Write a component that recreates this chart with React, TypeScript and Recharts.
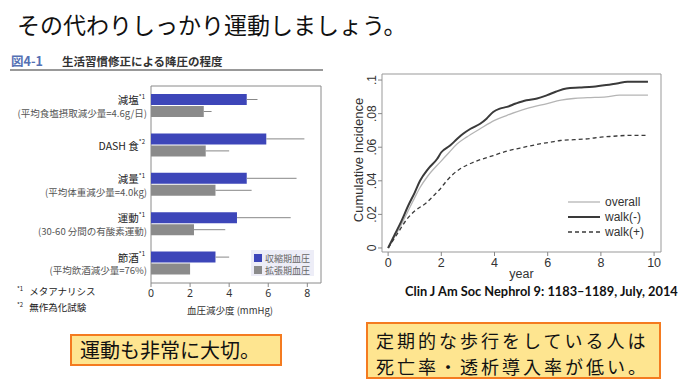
import React from "react";
import {
  BarChart,
  Bar,
  XAxis,
  YAxis,
  ErrorBar,
  ReferenceArea,
  Legend,
  LineChart,
  Line,
} from "recharts";

// left chart: 生活習慣修正による降圧の程度
const categories = ["減塩", "DASH 食", "減量", "運動", "節酒"];
const categoryNotes = ["*1", "*2", "*1", "*1", "*1"];
const categorySubs = [
  "(平均食塩摂取減少量=4.6g/日)",
  "",
  "(平均体重減少量=4.0kg)",
  "(30-60 分間の有酸素運動)",
  "(平均飲酒減少量=76%)",
];
const systolic = [4.9, 5.9, 4.9, 4.4, 3.3];
const systolicErr = [0.55, 1.95, 2.55, 2.75, 0.7];
const diastolic = [2.7, 2.8, 3.3, 2.2, 2.0];
const diastolicErr = [0.4, 1.2, 1.85, 1.6, 0];
const bpTicks = [0, 2, 4, 6, 8];

// right chart: cumulative incidence by walking
const walkNoYears = [0, 0.25, 0.5, 0.75, 1.0, 1.2, 1.5, 1.84, 2.0, 2.33, 2.6, 2.82, 3.1, 3.46, 3.7, 3.95, 4.2, 4.47, 4.8, 5.2, 5.6, 5.98, 6.3, 6.7, 7.2, 7.7, 8.2, 8.6, 9.0, 9.77];
const walkNoValues = [0, 0.008, 0.016, 0.025, 0.033, 0.04, 0.047, 0.053, 0.057, 0.061, 0.065, 0.068, 0.071, 0.074, 0.077, 0.081, 0.083, 0.084, 0.086, 0.088, 0.089, 0.091, 0.093, 0.095, 0.0955, 0.096, 0.097, 0.098, 0.099, 0.099];
const overallYears = [0, 0.25, 0.5, 0.75, 1.0, 1.2, 1.5, 1.95, 2.3, 2.6, 2.95, 3.46, 4.0, 4.47, 5.2, 5.98, 6.5, 6.97, 7.5, 8.2, 8.7, 9.77];
const overallValues = [0, 0.007, 0.014, 0.022, 0.03, 0.036, 0.043, 0.051, 0.057, 0.062, 0.066, 0.071, 0.076, 0.079, 0.083, 0.086, 0.088, 0.089, 0.0895, 0.09, 0.091, 0.091];
const walkYesYears = [0, 0.37, 0.7, 1.0, 1.45, 1.7, 1.95, 2.2, 2.45, 2.7, 3.2, 3.95, 4.47, 4.96, 5.4, 5.7, 6.1, 6.47, 7.0, 7.5, 8.0, 8.45, 9.0, 9.77];
const walkYesValues = [0, 0.009, 0.017, 0.022, 0.027, 0.031, 0.035, 0.04, 0.044, 0.047, 0.051, 0.055, 0.0577, 0.0595, 0.061, 0.062, 0.063, 0.064, 0.0645, 0.065, 0.066, 0.0665, 0.067, 0.067];
const yearTicks = [0, 2, 4, 6, 8, 10];
const incidenceTicks = [0, 0.02, 0.04, 0.06, 0.08, 0.1];
const incidenceLabels = ["0", ".02", ".04", ".06", ".08", ".1"];

const JP = '"Noto Sans CJK JP", "Noto Sans", sans-serif';
const SANS = '"Liberation Sans", Arial, sans-serif';
const BLUE = "#3d46b9";
const GRAY = "#8b8b8b";

const bpData = categories.map((name, i) => ({
  name,
  systolic: systolic[i],
  systolicErr: [0, systolicErr[i]],
  diastolic: diastolic[i],
  diastolicErr: [0, diastolicErr[i]],
}));

const toSeries = (years: number[], values: number[]) =>
  years.map((year, i) => ({ year, value: values[i] }));
const walkNoData = toSeries(walkNoYears, walkNoValues);
const overallData = toSeries(overallYears, overallValues);
const walkYesData = toSeries(walkYesYears, walkYesValues);

const CategoryTick = (props: any) => {
  const { x, y, payload } = props;
  const i = categories.indexOf(payload.value);
  const sub = categorySubs[i];
  const mainY = sub ? y - 6 : y;
  return (
    <g>
      <text x={x} y={mainY} textAnchor="end" dominantBaseline="central" fontFamily={JP} fontSize={10.5} fill="#222">
        {payload.value}
        <tspan fontSize={6} dy={-4}>{categoryNotes[i]}</tspan>
      </text>
      {sub && (
        <text x={x + 2} y={y + 7} textAnchor="end" dominantBaseline="central" fontFamily={JP} fontSize={9.5} fill="#555">
          {sub}
        </text>
      )}
    </g>
  );
};

const BpAxisTitle = (props: any) => {
  const { viewBox } = props;
  const cx = viewBox.x + viewBox.width / 2 - 6;
  const cy = viewBox.y + 27;
  return (
    <text x={cx} y={cy} textAnchor="middle" dominantBaseline="central" fontFamily={JP} fontSize={9.5} fill="#333">
      血圧減少度 (mmHg)
    </text>
  );
};

const bpLegendItems = [
  { label: "収縮期血圧", color: BLUE },
  { label: "拡張期血圧", color: GRAY },
];

const BpLegend = () => (
  <div style={{ width: 63, height: 26, background: "#ededf7", boxSizing: "border-box", padding: "2px 0 0 3px" }}>
    {bpLegendItems.map((it) => (
      <div key={it.label} style={{ display: "flex", alignItems: "center", height: 12, fontFamily: JP, fontSize: 9, color: "#666" }}>
        <span style={{ display: "inline-block", width: 8, height: 8, background: it.color, marginRight: 3 }} />
        {it.label}
      </div>
    ))}
  </div>
);

const IncidenceTick = (props: any) => {
  const { x, y, payload } = props;
  const i = incidenceTicks.indexOf(payload.value);
  return (
    <text x={x} y={y} transform={`rotate(-90, ${x}, ${y})`} textAnchor="middle" fontFamily={SANS} fontSize={12} fill="#333">
      {incidenceLabels[i]}
    </text>
  );
};

const IncidenceTitle = (props: any) => {
  const { viewBox } = props;
  const cx = viewBox.x + 18;
  const cy = viewBox.y + viewBox.height / 2 - 3;
  return (
    <text x={cx} y={cy} transform={`rotate(-90, ${cx}, ${cy})`} textAnchor="middle" dominantBaseline="central" fontFamily={SANS} fontSize={13} fill="#333">
      Cumulative Incidence
    </text>
  );
};

const YearTitle = (props: any) => {
  const { viewBox } = props;
  return (
    <text x={viewBox.x + viewBox.width / 2} y={viewBox.y + 26} textAnchor="middle" fontFamily={SANS} fontSize={12.5} fill="#333">
      year
    </text>
  );
};

const walkLegendItems = [
  { label: "overall", color: "#b5b5b5", width: 1.3, dash: undefined },
  { label: "walk(-)", color: "#3a3a3a", width: 2, dash: undefined },
  { label: "walk(+)", color: "#3a3a3a", width: 1.3, dash: "4 3" },
];

const WalkLegend = () => (
  <div>
    {walkLegendItems.map((it) => (
      <div key={it.label} style={{ display: "flex", alignItems: "center", height: 15, fontFamily: SANS, fontSize: 12, color: "#333" }}>
        <svg width={32} height={6} style={{ marginRight: 5 }}>
          <line x1={0} y1={3} x2={32} y2={3} stroke={it.color} strokeWidth={it.width} strokeDasharray={it.dash} />
        </svg>
        {it.label}
      </div>
    ))}
  </div>
);

const box = (extra: React.CSSProperties): React.CSSProperties => ({
  position: "absolute",
  background: "#fee590",
  border: "2px solid #f47b20",
  boxSizing: "border-box",
  fontFamily: JP,
  color: "#111",
  ...extra,
});

export default function App() {
  return (
    <div style={{ position: "absolute", left: 0, top: 0, width: 691, height: 386, background: "#fff", overflow: "hidden" }}>
      <div style={{ position: "absolute", left: 17, top: 9, fontFamily: JP, fontSize: 23, lineHeight: "30px", color: "#111", whiteSpace: "nowrap" }}>
        その代わりしっかり運動しましょう。
      </div>

      {/* left figure header */}
      <div style={{ position: "absolute", left: 11, top: 52, fontFamily: JP, fontWeight: 700, lineHeight: "15px", whiteSpace: "nowrap" }}>
        <span style={{ color: "#5470b4", fontSize: 12.5 }}>図4-1</span>
        <span style={{ color: "#333", fontSize: 11.5, marginLeft: 19 }}>生活習慣修正による降圧の程度</span>
      </div>
      <div style={{ position: "absolute", left: 10, top: 68.5, width: 313, height: 2, background: "#999" }} />

      <div style={{ position: "absolute", left: 0, top: 60 }}>
        <BarChart width={330} height={258} data={bpData} layout="vertical" barGap={1} margin={{ top: 26, right: 9, bottom: 0, left: 0 }}>
          <XAxis
            type="number"
            domain={[0, 8.7]}
            ticks={bpTicks}
            allowDataOverflow
            height={35}
            axisLine={false}
            tickSize={4}
            tickMargin={3}
            tickLine={{ stroke: "#888" }}
            tick={{ fontFamily: '"Noto Sans", sans-serif', fontSize: 10.5, fill: "#333" }}
            label={<BpAxisTitle />}
          />
          <YAxis type="category" dataKey="name" width={151} axisLine={false} tickLine={false} tickSize={0} tickMargin={6} tick={<CategoryTick />} />
          <ReferenceArea x1={0} x2={8.7} fill="none" stroke="#8a8a8a" strokeWidth={1} />
          <Bar dataKey="systolic" fill={BLUE} barSize={11} isAnimationActive={false}>
            <ErrorBar dataKey="systolicErr" direction="x" width={0} stroke="#888" strokeWidth={1} />
          </Bar>
          <Bar dataKey="diastolic" fill={GRAY} barSize={11} isAnimationActive={false}>
            <ErrorBar dataKey="diastolicErr" direction="x" width={0} stroke="#888" strokeWidth={1} />
          </Bar>
          <Legend layout="vertical" align="center" verticalAlign="middle" content={<BpLegend />} wrapperStyle={{ left: 251, top: 190, width: 63, height: 26 }} />
        </BarChart>
      </div>

      <div style={{ position: "absolute", left: 17, top: 282, fontFamily: JP, fontSize: 9.5, lineHeight: "13px", color: "#222", whiteSpace: "nowrap" }}>
        <div><sup style={{ fontSize: 6 }}>*1</sup><span style={{ marginLeft: 6 }}>メタアナリシス</span></div>
        <div><sup style={{ fontSize: 6 }}>*2</sup><span style={{ marginLeft: 6 }}>無作為化試験</span></div>
      </div>

      <div style={{ position: "absolute", left: 340, top: 60 }}>
        <LineChart width={345} height={225} margin={{ top: 14, right: 24, bottom: 13, left: 0 }}>
          <XAxis
            type="number"
            dataKey="year"
            domain={[-0.23, 10.26]}
            ticks={yearTicks}
            allowDataOverflow
            height={20}
            axisLine={false}
            tickSize={4}
            tickMargin={2}
            tickLine={{ stroke: "#888" }}
            tick={{ fontFamily: SANS, fontSize: 12.5, fill: "#333" }}
            label={<YearTitle />}
          />
          <YAxis
            type="number"
            domain={[-0.0024, 0.1036]}
            ticks={incidenceTicks}
            allowDataOverflow
            width={42}
            axisLine={false}
            tickSize={4}
            tickMargin={2}
            tickLine={{ stroke: "#888" }}
            tick={<IncidenceTick />}
            label={<IncidenceTitle />}
          />
          <ReferenceArea x1={-0.23} x2={10.26} y1={-0.0024} y2={0.1036} fill="none" stroke="#999" strokeWidth={1} />
          <Line data={overallData} dataKey="value" name="overall" type="monotone" stroke="#b5b5b5" strokeWidth={1.3} dot={false} isAnimationActive={false} />
          <Line data={walkYesData} dataKey="value" name="walk(+)" type="monotone" stroke="#3a3a3a" strokeWidth={1.3} strokeDasharray="4 3" dot={false} isAnimationActive={false} />
          <Line data={walkNoData} dataKey="value" name="walk(-)" type="monotone" stroke="#3a3a3a" strokeWidth={2} dot={false} isAnimationActive={false} />
          <Legend layout="vertical" align="center" verticalAlign="middle" content={<WalkLegend />} wrapperStyle={{ left: 228, top: 134, width: 90 }} />
        </LineChart>
      </div>

      <div style={{ position: "absolute", left: 405, top: 283, fontFamily: "Lato, sans-serif", fontWeight: 700, fontSize: 12.8, color: "#111", whiteSpace: "nowrap" }}>
        Clin J Am Soc Nephrol 9: 1183–1189, July, 2014
      </div>

      <div style={box({ left: 70, top: 334, width: 212, height: 32, padding: "0 0 0 8px", fontSize: 20, lineHeight: "28px" })}>
        運動も非常に大切。
      </div>
      <div style={box({ left: 366, top: 322, width: 295, height: 57, padding: "3px 0 0 8px", fontSize: 18, letterSpacing: 3, whiteSpace: "nowrap" })}>
        <div style={{ height: 26, lineHeight: "26px" }}>定期的な歩行をしている人は</div>
        <div style={{ height: 26, lineHeight: "26px" }}>死亡率・透析導入率が低い。</div>
      </div>
    </div>
  );
}
